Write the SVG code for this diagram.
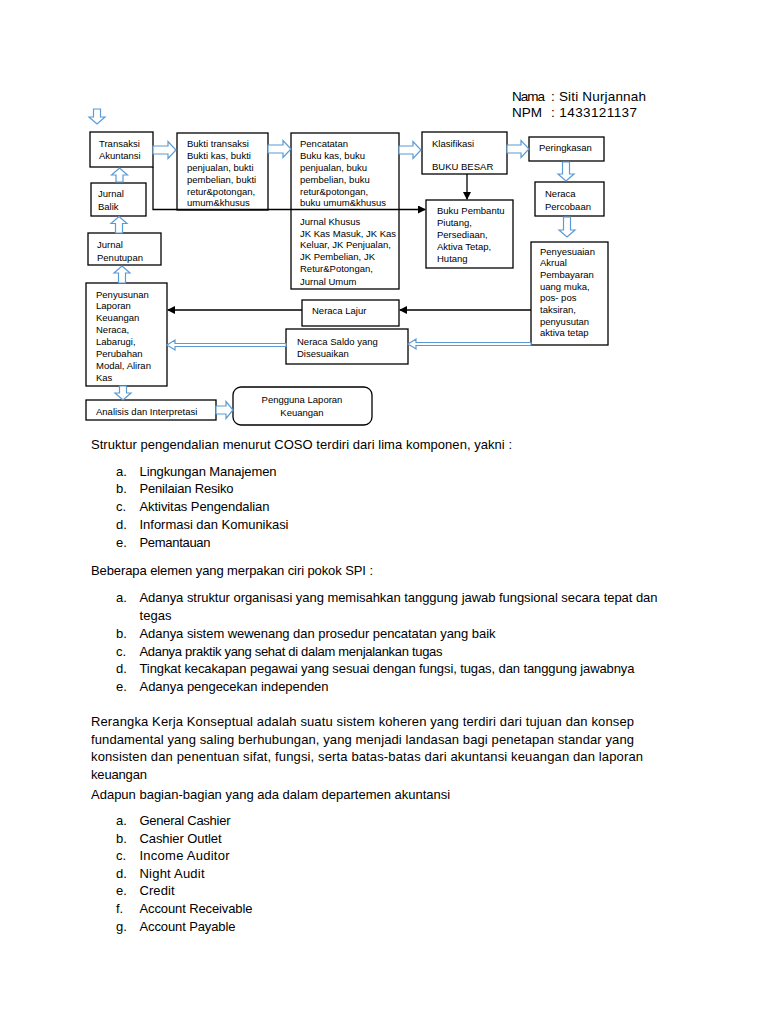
<svg xmlns="http://www.w3.org/2000/svg" width="768" height="1024" viewBox="0 0 768 1024">
<style>
.bx{fill:#fff;stroke:#000;stroke-width:1.3}
.t{font-family:"Liberation Sans",Arial,sans-serif;font-size:9.5px;fill:#000}
.h{font-family:"Liberation Sans",Arial,sans-serif;font-size:13.5px;fill:#000}
.p{font-family:"Liberation Sans",Arial,sans-serif;font-size:13px;fill:#000}
.ba{fill:#fff;stroke:#5B9BD5;stroke-width:1.2;stroke-linejoin:miter}
.ln{fill:none;stroke:#000;stroke-width:1.3}
</style>
<defs>
<marker id="ah" markerUnits="userSpaceOnUse" markerWidth="8" markerHeight="8" refX="7" refY="4" orient="auto">
<path d="M0,0 L8,4 L0,8 Z" fill="#000"/>
</marker>
</defs>
<rect width="768" height="1024" fill="#fff"/>

<g id="header">
<text class="h" x="512" y="100.5" textLength="33">Nama</text><text class="h" x="551" y="100.5" textLength="95">: Siti Nurjannah</text>
<text class="h" x="512" y="116.5" textLength="30">NPM</text><text class="h" x="551" y="116.5" textLength="86">: 1433121137</text>
</g>

<g id="transaksi"><rect class="bx" x="90" y="132" width="63" height="35"/>
<text class="t" x="99" y="146.5">Transaksi</text><text class="t" x="99" y="158.5">Akuntansi</text></g>
<g id="jurnal-balik"><rect class="bx" x="91" y="183" width="55" height="33"/>
<text class="t" x="98" y="196.5">Jurnal</text><text class="t" x="98" y="209.5">Balik</text></g>
<g id="jurnal-penutupan"><rect class="bx" x="88" y="233" width="73" height="32"/>
<text class="t" x="97" y="247.5">Jurnal</text><text class="t" x="97" y="260.5">Penutupan</text></g>
<g id="penyusunan"><rect class="bx" x="86" y="283" width="81" height="103"/>
<text class="t" x="96" y="297.5">Penyusunan</text><text class="t" x="96" y="309.4">Laporan</text><text class="t" x="96" y="321.3">Keuangan</text><text class="t" x="96" y="333.2">Neraca,</text><text class="t" x="96" y="345.1">Labarugi,</text><text class="t" x="96" y="357">Perubahan</text><text class="t" x="96" y="368.9">Modal, Aliran</text><text class="t" x="96" y="380.8">Kas</text></g>
<g id="analisis"><rect class="bx" x="86" y="400" width="130" height="20"/>
<text class="t" x="96" y="414.5">Analisis dan Interpretasi</text></g>
<g id="pengguna"><rect class="bx" x="233" y="387" width="139" height="38" rx="8"/>
<text class="t" x="302" y="402.5" text-anchor="middle">Pengguna Laporan</text><text class="t" x="302" y="415.5" text-anchor="middle">Keuangan</text></g>
<g id="bukti"><rect class="bx" x="177" y="133" width="91" height="77"/>
<text class="t" x="187" y="146.5">Bukti transaksi</text><text class="t" x="187" y="158.5">Bukti kas, bukti</text><text class="t" x="187" y="170.5">penjualan, bukti</text><text class="t" x="187" y="182.5">pembelian, bukti</text><text class="t" x="187" y="194.5">retur&amp;potongan,</text><text class="t" x="187" y="206">umum&amp;khusus</text></g>
<g id="pencatatan"><rect class="bx" x="291" y="133" width="108" height="156"/>
<text class="t" x="300" y="146.5">Pencatatan</text><text class="t" x="300" y="158.5">Buku kas, buku</text><text class="t" x="300" y="170.5">penjualan, buku</text><text class="t" x="300" y="182.5">pembelian, buku</text><text class="t" x="300" y="194.5">retur&amp;potongan,</text><text class="t" x="300" y="206">buku umum&amp;khusus</text>
<text class="t" x="300" y="224.5">Jurnal Khusus</text><text class="t" x="300" y="236.5">JK Kas Masuk, JK Kas</text><text class="t" x="300" y="248">Keluar, JK Penjualan,</text><text class="t" x="300" y="260">JK Pembelian, JK</text><text class="t" x="300" y="272">Retur&amp;Potongan,</text><text class="t" x="300" y="284.5">Jurnal Umum</text></g>
<g id="klasifikasi"><rect class="bx" x="422" y="132" width="85" height="42"/>
<text class="t" x="432" y="146.5">Klasifikasi</text><text class="t" x="432" y="169.5">BUKU BESAR</text></g>
<g id="peringkasan"><rect class="bx" x="529" y="137" width="75" height="24"/>
<text class="t" x="539" y="150.5">Peringkasan</text></g>
<g id="neraca-percobaan"><rect class="bx" x="535" y="182" width="69" height="34"/>
<text class="t" x="545" y="196.5">Neraca</text><text class="t" x="545" y="209.5">Percobaan</text></g>
<g id="buku-pembantu"><rect class="bx" x="426" y="200" width="87" height="68"/>
<text class="t" x="437" y="213.5">Buku Pembantu</text><text class="t" x="437" y="225.5">Piutang,</text><text class="t" x="437" y="237.5">Persediaan,</text><text class="t" x="437" y="249.5">Aktiva Tetap,</text><text class="t" x="437" y="261.5">Hutang</text></g>
<g id="penyesuaian"><rect class="bx" x="531" y="242" width="77" height="103"/>
<text class="t" x="540" y="254.5">Penyesuaian</text><text class="t" x="540" y="266.2">Akrual</text><text class="t" x="540" y="277.9">Pembayaran</text><text class="t" x="540" y="289.6">uang muka,</text><text class="t" x="540" y="301.3">pos- pos</text><text class="t" x="540" y="313">taksiran,</text><text class="t" x="540" y="324.7">penyusutan</text><text class="t" x="540" y="336.4">aktiva tetap</text></g>
<g id="neraca-lajur"><rect class="bx" x="302" y="300" width="97" height="26"/>
<text class="t" x="312" y="313.5">Neraca Lajur</text></g>
<g id="neraca-saldo"><rect class="bx" x="286" y="329" width="122" height="35"/>
<text class="t" x="297" y="344.5">Neraca Saldo yang</text><text class="t" x="297" y="356.5">Disesuaikan</text></g>

<g id="connectors">
<path class="ba" d="M93.5,109 H100.5 V117 H105 L97,124 L89,117 H93.5 Z"/>
<path class="ba" d="M153,146 H168 V141.5 L176,150 L168,158.5 V154 H153 Z"/>
<path class="ba" d="M268,145 H283 V140.5 L291,149 L283,157.5 V153 H268 Z"/>
<path class="ba" d="M399,146 H413 V141.5 L421,150 L413,158.5 V154 H399 Z"/>
<path class="ba" d="M507,145 H521 V140.5 L529,149 L521,157.5 V153 H507 Z"/>
<path class="ba" d="M562.5,162 H569.5 V174 H574 L566,181 L558,174 H562.5 Z"/>
<path class="ba" d="M563.5,217 H570.5 V230 H575 L567,237 L559,230 H563.5 Z"/>
<path class="ba" d="M116,182 H123 V175 H127.5 L119.5,168 L111.5,175 H116 Z"/>
<path class="ba" d="M115.5,233 H122.5 V223.5 H127 L119,216.5 L111,223.5 H115.5 Z"/>
<path class="ba" d="M118.5,283 H125.5 V273 H130 L122,266 L114,273 H118.5 Z"/>
<path class="ba" d="M119.5,386 H126.5 V393 H131 L123,400 L115,393 H119.5 Z"/>
<path class="ba" d="M216,406 H226 V401.5 L233,410 L226,418.5 V414 H216 Z"/>
<path class="ba" d="M531,342.5 H416 V339 L408,344 L416,349 V345.5 H531 Z"/>
<path class="ba" d="M286,343.5 H175 V340 L167,345 L175,350 V346.5 H286 Z"/>
<line class="ln" x1="467" y1="174" x2="467" y2="199" marker-end="url(#ah)"/>
<polyline class="ln" points="153,167 153,209.5 425,209.5" marker-end="url(#ah)"/>
<line class="ln" x1="531" y1="310" x2="400" y2="310" marker-end="url(#ah)"/>
<line class="ln" x1="302" y1="310" x2="168" y2="310" marker-end="url(#ah)"/>
</g>

<g id="text-body">
<text class="p" x="91" y="448.5" textLength="421">Struktur pengendalian menurut COSO terdiri dari lima komponen, yakni :</text>
<text class="p" x="116" y="475.5">a.</text><text class="p" x="139.5" y="475.5" textLength="137">Lingkungan Manajemen</text>
<text class="p" x="116" y="493.3">b.</text><text class="p" x="139.5" y="493.3" textLength="94">Penilaian Resiko</text>
<text class="p" x="116" y="511.1">c.</text><text class="p" x="139.5" y="511.1" textLength="130">Aktivitas Pengendalian</text>
<text class="p" x="116" y="528.9">d.</text><text class="p" x="139.5" y="528.9" textLength="149">Informasi dan Komunikasi</text>
<text class="p" x="116" y="546.7">e.</text><text class="p" x="139.5" y="546.7" textLength="71">Pemantauan</text>

<text class="p" x="91" y="574.5" textLength="282">Beberapa elemen yang merpakan ciri pokok SPI :</text>
<text class="p" x="116" y="601.5">a.</text><text class="p" x="139.5" y="601.5" textLength="518">Adanya struktur organisasi yang memisahkan tanggung jawab fungsional secara tepat dan</text>
<text class="p" x="139.5" y="619.5" textLength="32">tegas</text>
<text class="p" x="116" y="637.5">b.</text><text class="p" x="139.5" y="637.5" textLength="356">Adanya sistem wewenang dan prosedur pencatatan yang baik</text>
<text class="p" x="116" y="655.5">c.</text><text class="p" x="139.5" y="655.5" textLength="303">Adanya praktik yang sehat di dalam menjalankan tugas</text>
<text class="p" x="116" y="672.5">d.</text><text class="p" x="139.5" y="672.5" textLength="495">Tingkat kecakapan pegawai yang sesuai dengan fungsi, tugas, dan tanggung jawabnya</text>
<text class="p" x="116" y="690.5">e.</text><text class="p" x="139.5" y="690.5" textLength="189">Adanya pengecekan independen</text>

<text class="p" x="91" y="725.5" textLength="543">Rerangka Kerja Konseptual adalah suatu sistem koheren yang terdiri dari tujuan dan konsep</text>
<text class="p" x="91" y="743.5" textLength="543">fundamental yang saling berhubungan, yang menjadi landasan bagi penetapan standar yang</text>
<text class="p" x="91" y="760.5" textLength="552">konsisten dan penentuan sifat, fungsi, serta batas-batas dari akuntansi keuangan dan laporan</text>
<text class="p" x="91" y="778.5" textLength="56">keuangan</text>

<text class="p" x="91" y="798.5">Adapun bagian-bagian yang ada dalam departemen akuntansi</text>
<text class="p" x="116" y="824.5">a.</text><text class="p" x="139.5" y="824.5" textLength="91">General Cashier</text>
<text class="p" x="116" y="842.5">b.</text><text class="p" x="139.5" y="842.5" textLength="82">Cashier Outlet</text>
<text class="p" x="116" y="859.5">c.</text><text class="p" x="139.5" y="859.5" textLength="90">Income Auditor</text>
<text class="p" x="116" y="877.5">d.</text><text class="p" x="139.5" y="877.5" textLength="65">Night Audit</text>
<text class="p" x="116" y="894.5">e.</text><text class="p" x="139.5" y="894.5" textLength="35">Credit</text>
<text class="p" x="116" y="912.5">f.</text><text class="p" x="139.5" y="912.5" textLength="113">Account Receivable</text>
<text class="p" x="116" y="930.5">g.</text><text class="p" x="139.5" y="930.5" textLength="96">Account Payable</text>
</g>
</svg>
